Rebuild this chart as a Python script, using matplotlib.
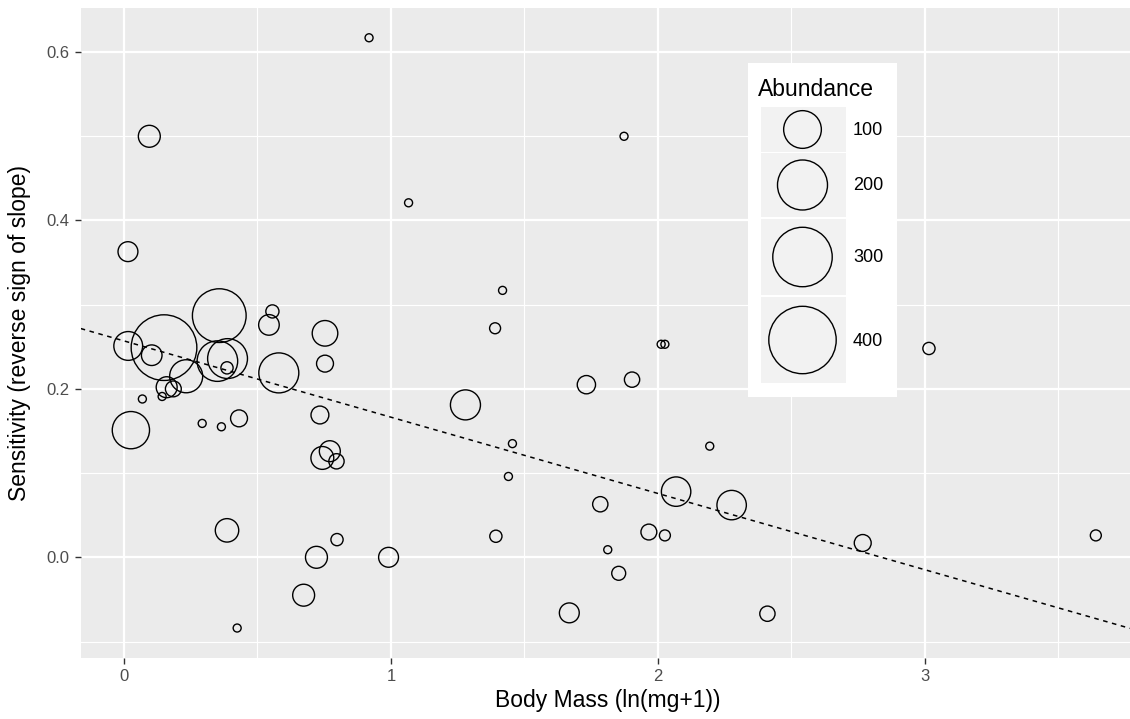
import numpy as np
import matplotlib
matplotlib.use("Agg")
import matplotlib.pyplot as plt
from matplotlib.patches import Rectangle

plt.rcParams['font.family'] = ['Liberation Sans', 'DejaVu Sans']

# species: body mass, sensitivity (reverse sign of slope), abundance
body_mass = [0.918, 0.095, 1.873, 1.066, 0.015, 0.357, 0.556, 0.543, 0.753, 1.418,
             1.390, 2.012, 2.026, 0.016, 0.150, 0.104, 0.233, 0.350, 0.388, 0.386,
             0.580, 0.753, 0.069, 0.160, 0.185, 0.143, 0.026, 0.293, 0.365, 0.431,
             0.734, 0.771, 0.743, 0.796, 1.279, 1.732, 1.903, 3.015, 1.455, 1.440,
             2.194, 2.068, 2.276, 1.784, 1.393, 1.966, 2.026, 1.812, 1.853, 1.668,
             2.410, 2.767, 3.640, 0.386, 0.424, 0.721, 0.798, 0.991, 0.673]
sensitivity = [0.617, 0.500, 0.500, 0.421, 0.363, 0.287, 0.292, 0.276, 0.266, 0.317,
               0.272, 0.253, 0.253, 0.251, 0.249, 0.240, 0.215, 0.233, 0.236, 0.225,
               0.219, 0.230, 0.188, 0.202, 0.200, 0.191, 0.151, 0.159, 0.155, 0.165,
               0.169, 0.126, 0.118, 0.114, 0.181, 0.205, 0.211, 0.248, 0.135, 0.096,
               0.132, 0.078, 0.062, 0.063, 0.025, 0.030, 0.026, 0.009, -0.019, -0.066,
               -0.067, 0.017, 0.026, 0.032, -0.084, 0.000, 0.021, 0.000, -0.045]
abundance = [0, 22, 0, 0, 16, 237, 3, 18, 35, 0,
             1, 0, 0, 49, 377, 18, 71, 120, 115, 2,
             116, 9, 0, 19, 7, 0, 97, 0, 0, 9,
             11, 19, 25, 6, 55, 12, 6, 2, 0, 0,
             0, 52, 52, 6, 2, 7, 1, 0, 4, 16,
             6, 9, 1, 27, 0, 22, 2, 16, 22]

# fitted line
fit_intercept = 0.257
fit_slope = -0.0906

legend_breaks = [100, 200, 300, 400]

DPI = 100


def marker_area(a):
    # circle area grows linearly with abundance
    d_px = 8 + 2.97 * np.sqrt(np.asarray(a, dtype=float))
    return (d_px * 72 / DPI) ** 2


fig = plt.figure(figsize=(11.3, 7.19), dpi=DPI)
W, H = 1130, 719
left, right, top, bottom = 80.7, 1130, 8.3, 657.5
ax = fig.add_axes([left / W, 1 - bottom / H, (right - left) / W, (bottom - top) / H])
ax.set_facecolor('#EBEBEB')
for s in ax.spines.values():
    s.set_visible(False)

ax.set_xlim(-0.162, 3.768)
ax.set_ylim(-0.119, 0.652)
ax.set_xticks([0, 1, 2, 3])
ax.set_xticks([0.5, 1.5, 2.5, 3.5], minor=True)
ax.set_yticks([0.0, 0.2, 0.4, 0.6])
ax.set_yticklabels(['0.0', '0.2', '0.4', '0.6'])
ax.set_yticks([-0.1, 0.1, 0.3, 0.5], minor=True)
ax.grid(which='major', color='white', linewidth=1.6)
ax.grid(which='minor', color='white', linewidth=0.8)
ax.set_axisbelow(True)
ax.tick_params(which='major', length=4, width=1, color='#333333',
               labelcolor='#4D4D4D', labelsize=12, pad=4)
ax.tick_params(which='minor', length=0)

ax.set_xlabel('Body Mass (ln(mg+1))', fontsize=16.5, color='black', va='center')
ax.set_ylabel('Sensitivity (reverse sign of slope)', fontsize=16.5, color='black', va='center')
ax.xaxis.set_label_coords((608 - left) / (right - left), (bottom - 701) / (bottom - top))
ax.yaxis.set_label_coords((19 - left) / (right - left), 0.5)

ax.scatter(body_mass, sensitivity, s=marker_area(abundance), facecolors='none',
           edgecolors='black', linewidths=1.0, zorder=3)

xs = np.array(ax.get_xlim())
ax.plot(xs, fit_intercept + fit_slope * xs, color='black', linestyle=(0, (3, 3)),
        linewidth=1.1, zorder=4)

# legend panel
lx0, ly0, lx1, ly1 = 748, 63, 897, 397
lax = fig.add_axes([lx0 / W, 1 - ly1 / H, (lx1 - lx0) / W, (ly1 - ly0) / H])
lax.set_xlim(0, lx1 - lx0)
lax.set_ylim(ly1 - ly0, 0)
lax.set_facecolor('white')
lax.set_xticks([])
lax.set_yticks([])
for s in lax.spines.values():
    s.set_visible(False)

lax.text(10, 27, 'Abundance', fontsize=16.5, va='center', ha='left')
key_rows = [(44, 89), (90, 154), (156, 232), (234, 320)]
for (y0, y1), val in zip(key_rows, legend_breaks):
    lax.add_patch(Rectangle((13, y0), 85, y1 - y0, facecolor='#F2F2F2', edgecolor='none'))
    yc = (y0 + y1) / 2
    lax.scatter([54.5], [yc], s=marker_area(val), facecolors='none',
                edgecolors='black', linewidths=1.0, zorder=3)
    lax.text(105, yc + 1, str(val), fontsize=13, va='center', ha='left', color='black')

fig.savefig('out.png', dpi=DPI)
